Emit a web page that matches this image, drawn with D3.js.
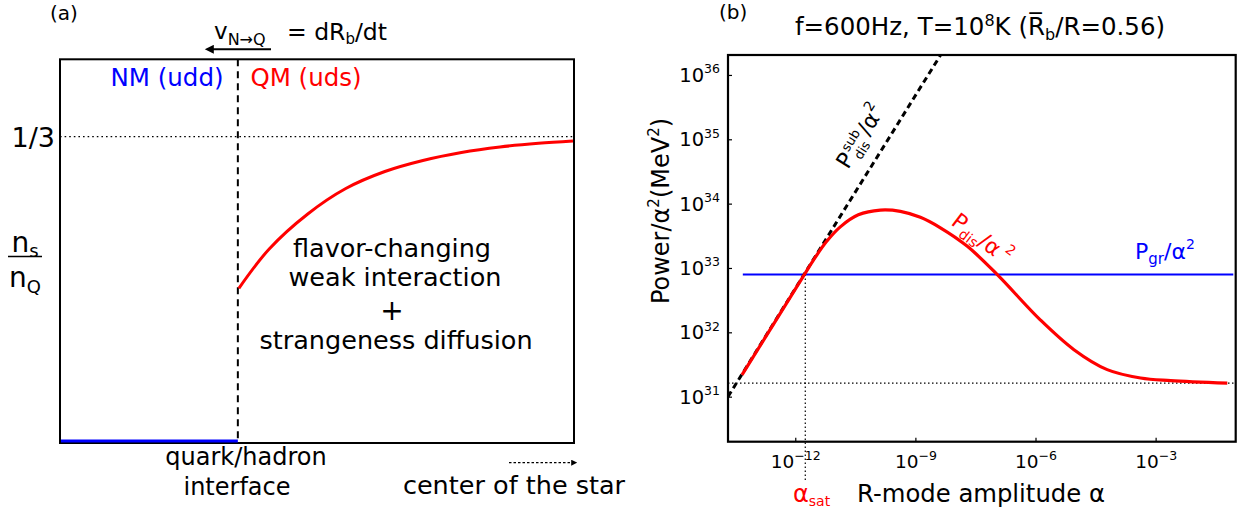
<!DOCTYPE html>
<html>
<head>
<meta charset="utf-8">
<script src="https://cdn.jsdelivr.net/npm/d3@7"></script>
<style>
  body { margin: 0; background: #fff; }
  text { font-family: "DejaVu Sans", Verdana, sans-serif; fill: #000; }
</style>
</head>
<body>
<div id="chart"></div>
<script>
// (a) strangeness fraction n_s/n_Q behind the conversion front
const nsPos = [0.348, 0.407, 0.482, 0.556, 0.632, 0.706, 0.781, 0.856, 0.931, 0.998]
const nsFrac = [0.1683, 0.2111, 0.2492, 0.2769, 0.2954, 0.3074, 0.3161, 0.3221, 0.3261, 0.3286]
const interfacePos = 0.346
const nsLimit = 1 / 3

// (b) power / alpha^2, stored as log10 of alpha and of the power
const disLogAlpha = [-13.33, -11.77, -11.55, -11.225, -10.875, -10.425, -9.875, -9.375, -8.875, -8.375, -7.71, -6.96, -5.875, -5.04, -4.21, -3.375, -2.625, -1.21]
const disLogP = [31.34, 32.90, 33.118, 33.406, 33.639, 33.826, 33.90, 33.88, 33.787, 33.624, 33.34, 32.90, 32.19, 31.73, 31.42, 31.29, 31.25, 31.21]
const subLogAlpha = [-13.68, -8.37]
const subLogP = [31.0, 36.31]
const grLogAlpha = [-13.31, -1.06]
const grLogP = [32.90, 32.90]
const satLogAlpha = -11.75
const floorLogP = 31.21
const xTickExps = [-12, -9, -6, -3]
const yTickExps = [31, 32, 33, 34, 35, 36]

const RED = '#ff0000'
const BLUE = '#0000ff'

const svg = d3.select('#chart')
  .append('svg')
  .attr('width', 1248)
  .attr('height', 518)

const defs = svg.append('defs')
defs.append('marker')
  .attr('id', 'head')
  .attr('viewBox', '0 0 10 10')
  .attr('refX', 2).attr('refY', 5)
  .attr('markerWidth', 12).attr('markerHeight', 9)
  .attr('markerUnits', 'userSpaceOnUse')
  .attr('orient', 'auto')
  .append('path').attr('d', 'M0,0 L10,5 L0,10 z').attr('fill', '#000')
defs.append('marker')
  .attr('id', 'smallhead')
  .attr('viewBox', '0 0 10 10')
  .attr('refX', 8).attr('refY', 5)
  .attr('markerWidth', 6).attr('markerHeight', 6)
  .attr('markerUnits', 'userSpaceOnUse')
  .attr('orient', 'auto')
  .append('path').attr('d', 'M0,0 L10,5 L0,10 z').attr('fill', '#000')

// text with raised / lowered runs: [string, shift px, size px]
function runs (sel, list, base) {
  let cur = 0
  list.forEach(([txt, shift = 0, size = base]) => {
    sel.append('tspan').attr('dy', shift - cur).attr('font-size', size).text(txt)
    cur = shift
  })
  return sel
}

function label (g, x, y, list, base, opts = {}) {
  const t = g.append('text')
    .attr('x', x).attr('y', y)
    .attr('font-size', base)
    .attr('text-anchor', opts.anchor || 'start')
  if (opts.fill) t.style('fill', opts.fill)
  return runs(t, list, base)
}

// ---------------- panel (a) ----------------
const ax = d3.scaleLinear().domain([0, 1]).range([60, 574])
const ay = d3.scaleLinear().domain([0, 0.4175]).range([443, 59.3])
const pa = svg.append('g').classed('panel-a', true)

pa.append('line')
  .attr('x1', ax(0)).attr('x2', ax(1))
  .attr('y1', ay(nsLimit)).attr('y2', ay(nsLimit))
  .attr('stroke', '#000').attr('stroke-width', 1.3)
  .attr('stroke-dasharray', '1.6,3')

pa.append('line')
  .attr('x1', ax(interfacePos)).attr('x2', ax(interfacePos))
  .attr('y1', ay(0.4175)).attr('y2', ay(0))
  .attr('stroke', '#000').attr('stroke-width', 2)
  .attr('stroke-dasharray', '7,5')

pa.append('path')
  .datum(d3.zip(nsPos, nsFrac))
  .attr('d', d3.line().x(d => ax(d[0])).y(d => ay(d[1])).curve(d3.curveCatmullRom.alpha(0.5)))
  .attr('fill', 'none').attr('stroke', RED).attr('stroke-width', 3)

pa.append('rect')
  .attr('x', ax(0)).attr('y', ay(0.4175))
  .attr('width', ax(1) - ax(0)).attr('height', ay(0) - ay(0.4175))
  .attr('fill', 'none').attr('stroke', '#000').attr('stroke-width', 2)

pa.append('line')
  .attr('x1', ax(0) + 1).attr('x2', ax(interfacePos))
  .attr('y1', ay(0) - 2).attr('y2', ay(0) - 2)
  .attr('stroke', BLUE).attr('stroke-width', 3)

label(pa, 50, 20, [['(a)']], 20)
label(pa, 214, 39, [['v'], ['N\u2192Q', 6, 16]], 23)
label(pa, 287, 40, [['= dR'], ['b', 4, 15], ['/dt', 0, 23.5]], 23.5)
pa.append('line')
  .attr('x1', 271).attr('x2', 212)
  .attr('y1', 49.3).attr('y2', 49.3)
  .attr('stroke', '#000').attr('stroke-width', 2)
  .attr('marker-end', 'url(#head)')

label(pa, 167, 86, [['NM (udd)']], 24.5, { anchor: 'middle', fill: BLUE })
label(pa, 306, 86, [['QM (uds)']], 24.5, { anchor: 'middle', fill: RED })
label(pa, 55, ay(nsLimit) + 10.5, [['1/3']], 27, { anchor: 'end' })

label(pa, 25, 251.7, [['n'], ['s', 5, 18]], 28, { anchor: 'middle' })
pa.append('line').attr('x1', 8).attr('x2', 42).attr('y1', 256.5).attr('y2', 256.5)
  .attr('stroke', '#000').attr('stroke-width', 1.5)
label(pa, 25, 286.7, [['n'], ['Q', 6, 18]], 28, { anchor: 'middle' })

label(pa, 392, 256.7, [['flavor-changing']], 25.5, { anchor: 'middle' })
label(pa, 395, 285.7, [['weak interaction']], 25.5, { anchor: 'middle' })
label(pa, 392, 320, [['+']], 28, { anchor: 'middle' })
label(pa, 396, 349, [['strangeness diffusion']], 25.5, { anchor: 'middle' })

label(pa, 246, 465, [['quark/hadron']], 24, { anchor: 'middle' })
label(pa, 237, 494.5, [['interface']], 24, { anchor: 'middle' })
label(pa, 514, 494, [['center of the star']], 25.5, { anchor: 'middle' })
pa.append('line')
  .attr('x1', 509).attr('x2', 576)
  .attr('y1', 462.7).attr('y2', 462.7)
  .attr('stroke', '#000').attr('stroke-width', 1.3)
  .attr('stroke-dasharray', '2.5,2')
  .attr('marker-end', 'url(#smallhead)')

// ---------------- panel (b) ----------------
const p10 = e => Math.pow(10, e)
const bx = d3.scaleLog().domain([p10(-13.68), p10(-1.0)]).range([728, 1235.7])
const by = d3.scaleLog().domain([p10(30.3), p10(36.31)]).range([441.7, 55])
const pb = svg.append('g').classed('panel-b', true)

const clip = defs.append('clipPath').attr('id', 'bclip')
clip.append('rect')
  .attr('x', bx.range()[0]).attr('y', by.range()[1])
  .attr('width', bx.range()[1] - bx.range()[0])
  .attr('height', by.range()[0] - by.range()[1])

// guide lines
pb.append('line')
  .attr('x1', bx.range()[0]).attr('x2', bx.range()[1])
  .attr('y1', by(p10(floorLogP))).attr('y2', by(p10(floorLogP)))
  .attr('stroke', '#000').attr('stroke-width', 1.2)
  .attr('stroke-dasharray', '1.5,2.5')
pb.append('line')
  .attr('x1', bx(p10(satLogAlpha))).attr('x2', bx(p10(satLogAlpha)))
  .attr('y1', by(p10(grLogP[0]))).attr('y2', 482)
  .attr('stroke', '#000').attr('stroke-width', 1.2)
  .attr('stroke-dasharray', '1.5,2.5')

const logLine = d3.line()
  .x(d => bx(p10(d[0])))
  .y(d => by(p10(d[1])))

pb.append('path')
  .datum(d3.zip(grLogAlpha, grLogP))
  .attr('d', logLine)
  .attr('fill', 'none').attr('stroke', BLUE).attr('stroke-width', 2)

pb.append('path')
  .datum(d3.zip(subLogAlpha, subLogP))
  .attr('d', logLine)
  .attr('clip-path', 'url(#bclip)')
  .attr('fill', 'none').attr('stroke', '#000').attr('stroke-width', 3)
  .attr('stroke-dasharray', '6,4')

pb.append('path')
  .datum(d3.zip(disLogAlpha, disLogP))
  .attr('d', logLine.curve(d3.curveCatmullRom.alpha(0.5)))
  .attr('fill', 'none').attr('stroke', RED).attr('stroke-width', 3.2)

// axes
const supText = e => (e < 0 ? '\u2212' + (-e) : String(e))

const xAxisG = pb.append('g')
  .attr('transform', `translate(0, ${by.range()[0]})`)
  .call(d3.axisBottom(bx).tickValues(xTickExps.map(p10)).tickSize(-4).tickSizeOuter(0).tickFormat(''))
xAxisG.select('.domain').remove()
xAxisG.selectAll('.tick line').attr('stroke-width', 1.2)
xAxisG.selectAll('.tick text').remove()
xAxisG.selectAll('.tick').each(function (d) {
  const t = d3.select(this).append('text')
    .attr('y', 26.6).attr('text-anchor', 'middle').attr('font-size', 18.5)
  runs(t, [['10'], [supText(Math.round(Math.log10(d))), -8.5, 12.5]], 18.5)
})

const yAxisG = pb.append('g')
  .attr('transform', `translate(${bx.range()[0]}, 0)`)
  .call(d3.axisLeft(by).tickValues(yTickExps.map(p10)).tickSize(-4).tickSizeOuter(0).tickFormat(''))
yAxisG.select('.domain').remove()
yAxisG.selectAll('.tick line').attr('stroke-width', 1.2)
yAxisG.selectAll('.tick text').remove()
yAxisG.selectAll('.tick').each(function (d) {
  const t = d3.select(this).append('text')
    .attr('x', -8).attr('y', 6.5).attr('text-anchor', 'end').attr('font-size', 19.5)
  runs(t, [['10'], [supText(Math.round(Math.log10(d))), -8.5, 12.5]], 19.5)
})

pb.append('rect')
  .attr('x', bx.range()[0]).attr('y', by.range()[1])
  .attr('width', bx.range()[1] - bx.range()[0])
  .attr('height', by.range()[0] - by.range()[1])
  .attr('fill', 'none').attr('stroke', '#000').attr('stroke-width', 2.2)

// titles and labels
label(pb, 719, 19, [['(b)']], 20)
label(pb, 980, 35, [['f=600Hz, T=10'], ['8', -9, 16], ['K (R\u0305', 0, 24.5], ['b', 5, 16], ['/R=0.56)', 0, 24.5]], 24.5, { anchor: 'middle' })

const yl = pb.append('text')
  .attr('transform', 'translate(669, 211) rotate(-90)')
  .attr('text-anchor', 'middle').attr('font-size', 24)
runs(yl, [['Power/\u03b1'], ['2', -10, 15], ['(MeV', 0, 24], ['2', -10, 15], [')', 0, 24]], 24)

label(pb, 981, 501.7, [['R-mode amplitude \u03b1']], 24.3, { anchor: 'middle' })
label(pb, 793, 501.7, [['\u03b1'], ['sat', 4, 14]], 24, { fill: RED })

label(pb, 1135, 259, [['P'], ['gr', 5, 15], ['/\u03b1', 0, 22], ['2', -10, 14]], 22, { fill: BLUE })

const disLab = pb.append('g').attr('transform', 'translate(950, 224) rotate(37)')
label(disLab, 0, 0, [['P'], ['dis', 5, 14], ['/\u03b1', 0, 22], [' 2', -11, 14]], 22, { fill: RED })

const subLab = pb.append('g').attr('transform', 'translate(848, 170) rotate(-58)')
subLab.append('text').attr('font-size', 22).text('P')
const supT = subLab.append('text').attr('x', 15).attr('y', -9).attr('font-size', 13).text('sub')
subLab.append('text').attr('x', 15).attr('y', 6).attr('font-size', 13).text('dis')
const sw = supT.node().getComputedTextLength()
label(subLab, 16 + sw, 0, [['/\u03b1'], ['2', -11, 14]], 22)
</script>
</body>
</html>
